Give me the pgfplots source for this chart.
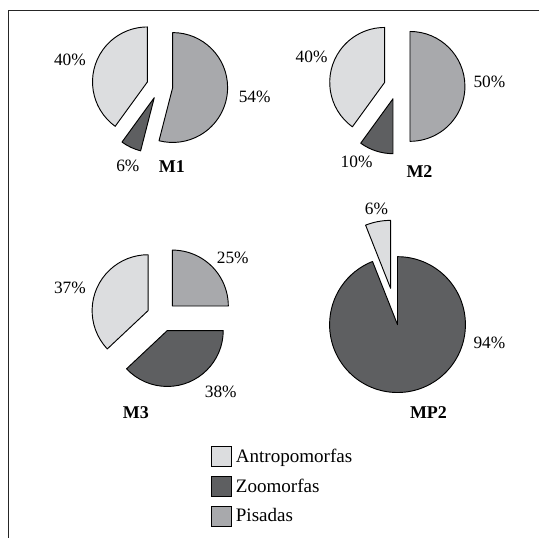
\documentclass[border=0pt]{standalone}
\usepackage{pgfplots}
\pgfplotsset{compat=1.18}
\usepackage{fontspec}
\setmainfont{Liberation Serif}

\definecolor{antro}{HTML}{DCDDDF}
\definecolor{zoo}{HTML}{5E5F61}
\definecolor{pis}{HTML}{A8A9AC}

% one wedge: centre x, centre y (pixels), radius, start %, end %, pull-out, colour
% percentages run clockwise from twelve o'clock
\newcommand{\slice}[7]{%
  \filldraw[fill=#7, draw=black, line width=0.7pt, line join=round]
    ([shift={({90-1.8*(#4+#5)}:{#6*0.75pt})}]axis cs:#1,#2)
    -- ++({90-3.6*#4}:{#3*0.75pt})
    arc[start angle={90-3.6*#4}, end angle={90-3.6*#5}, radius={#3*0.75pt}]
    -- cycle;}

\begin{document}
\begin{tikzpicture}
\begin{axis}[
    x=0.75pt, y=0.75pt,
    xmin=0, xmax=540, ymin=0, ymax=539,
    y dir=reverse,
    hide axis, clip=false,
    legend style={draw=none, fill=none, at={(axis cs:207,444)}, anchor=north west,
        font=\fontsize{14.3}{16}\selectfont, row sep=6.6pt,
        nodes={inner xsep=3pt, inner ysep=1pt}},
    legend cell align=left,
    legend image code/.code={\draw[#1, line width=0.7pt] (0pt,-7.5pt) rectangle (15pt,7.5pt);},
]
\addlegendimage{fill=antro, draw=black}
\addlegendentry{Antropomorfas}
\addlegendimage{fill=zoo, draw=black}
\addlegendentry{Zoomorfas}
\addlegendimage{fill=pis, draw=black}
\addlegendentry{Pisadas}

% frame (top and left edges)
\draw[line width=1pt, black!85] (axis cs:540,10.5) -- (axis cs:8.5,10.5) -- (axis cs:8.5,539);

% M1: Pisadas 54, Zoomorfas 6, Antropomorfas 40
\slice{160}{86}{55}{0}{54}{13}{pis}
\slice{160}{86}{55}{54}{60}{13}{zoo}
\slice{160}{86}{55}{60}{100}{13}{antro}
% M2: Pisadas 50, Zoomorfas 10, Antropomorfas 40
\slice{397.5}{86.5}{55}{0}{50}{13}{pis}
\slice{397.5}{86.5}{55}{50}{60}{13}{zoo}
\slice{397.5}{86.5}{55}{60}{100}{13}{antro}
% M3: Pisadas 25, Zoomorfas 38, Antropomorfas 37
\slice{162}{317}{56}{0}{25}{15}{pis}
\slice{162}{317}{56}{25}{63}{15}{zoo}
\slice{162}{317}{56}{63}{100}{15}{antro}
% MP2: Zoomorfas 94, Antropomorfas 6
\slice{398}{325}{68}{0}{94}{0}{zoo}
\slice{398}{325}{68}{94}{100}{37}{antro}

% percentages
\begin{scope}[every node/.style={font=\fontsize{13}{15}\selectfont, inner sep=0pt}]
\node at (axis cs:70,60) {40\%};
\node at (axis cs:255,97) {54\%};
\node at (axis cs:128,166) {6\%};
\node at (axis cs:312,57) {40\%};
\node at (axis cs:490,82) {50\%};
\node at (axis cs:357,162) {10\%};
\node at (axis cs:70,288) {37\%};
\node at (axis cs:233,258) {25\%};
\node at (axis cs:221,392) {38\%};
\node at (axis cs:377,209) {6\%};
\node at (axis cs:490,343) {94\%};
\end{scope}

% chart names
\begin{scope}[every node/.style={font=\fontsize{13.5}{15}\selectfont\bfseries, inner sep=0pt}]
\node at (axis cs:172,167) {M1};
\node at (axis cs:420,172) {M2};
\node at (axis cs:136,413) {M3};
\node at (axis cs:429,413) {MP2};
\end{scope}

% keep the page the full picture size
\path (axis cs:0,0) (axis cs:540,539);
\end{axis}
\end{tikzpicture}
\end{document}
